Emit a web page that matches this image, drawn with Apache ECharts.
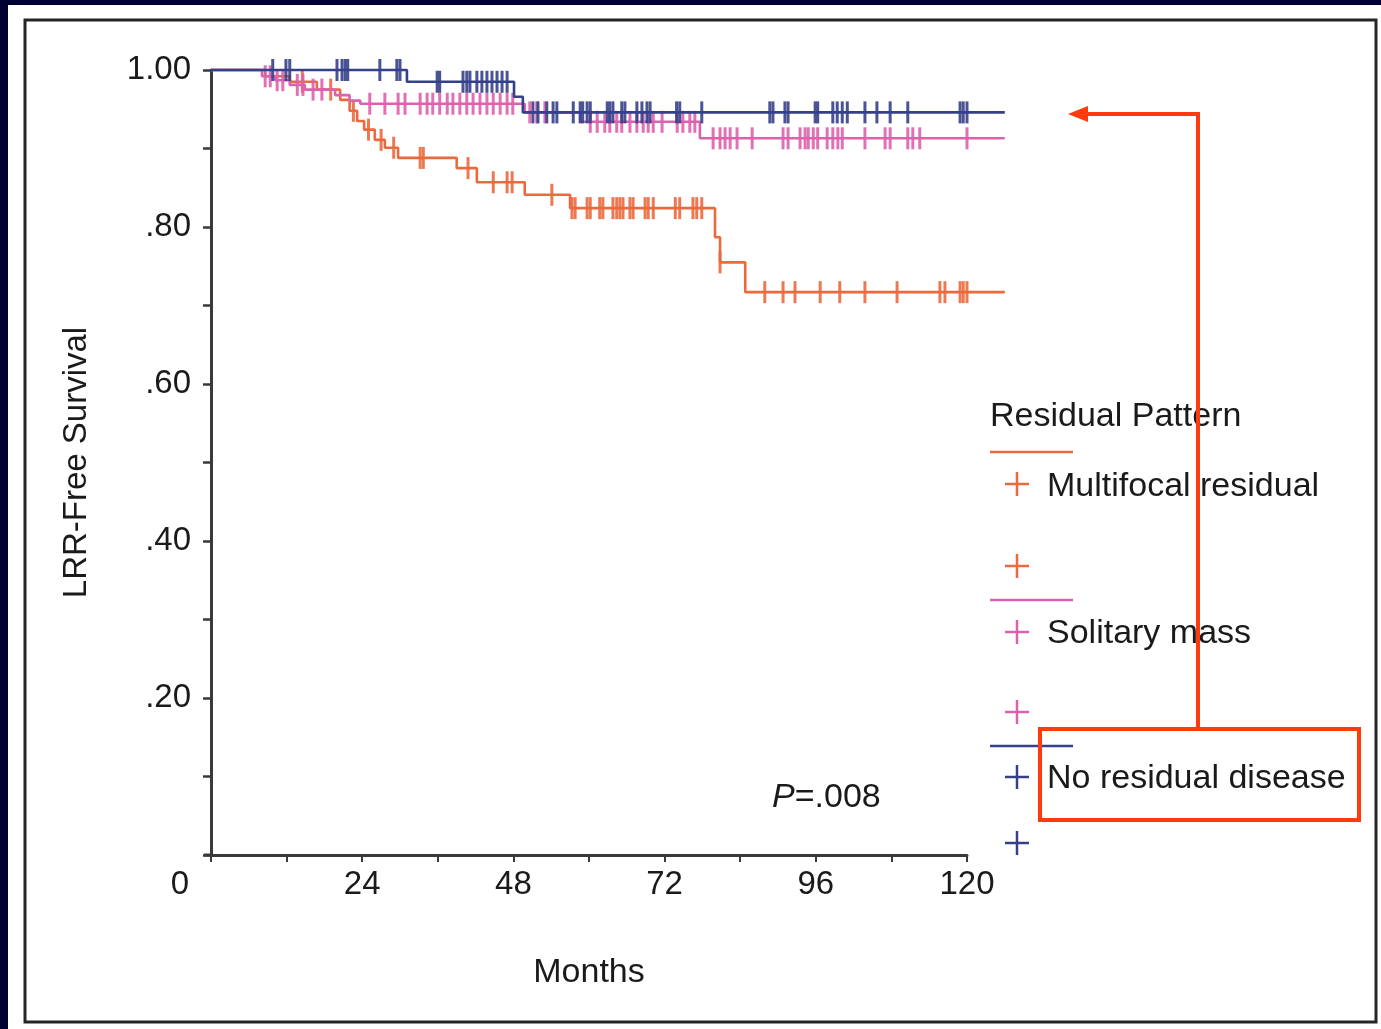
<!DOCTYPE html>
<html>
<head>
<meta charset="utf-8">
<script src="https://cdn.jsdelivr.net/npm/echarts@6/dist/echarts.min.js"></script>
<style>
  html, body { margin: 0; padding: 0; background: #ffffff; }
  #main { width: 1381px; height: 1029px; }
</style>
</head>
<body>
<div id="main"></div>
<script>
// step points (months, survival after the event) and censor times, per group
var multiTime = [0, 8.6, 12.5, 16.8, 20.5, 22.0, 23.2, 24.3, 26.0, 27.6, 29.7, 39.0, 42.2, 49.8, 57.0, 80.0, 80.8, 84.8];
var multiSurv = [1, 0.992, 0.985, 0.975, 0.962, 0.948, 0.935, 0.924, 0.911, 0.901, 0.888, 0.875, 0.857, 0.841, 0.824, 0.787, 0.755, 0.717];
var multiCensor = [14.5, 19.0, 22.6, 25.0, 27.0, 29.0, 33.2, 33.7, 40.8, 44.8, 47.0, 47.8, 54.1, 57.3, 57.8, 59.7, 60.2, 61.7, 62.2,
  63.8, 64.4, 64.9, 65.4, 66.5, 67.0, 68.9, 69.4, 70.2, 73.7, 74.4, 76.5, 77.1, 77.9, 80.8, 87.9, 90.8, 92.7, 96.7, 99.8,
  103.8, 108.9, 115.7, 116.5, 118.9, 119.4, 120.0];

var soloTime = [0, 8.1, 10.2, 12.5, 14.9, 19.7, 22.0, 23.7, 49.8, 58.6, 77.6];
var soloSurv = [1, 0.992, 0.987, 0.981, 0.975, 0.968, 0.961, 0.957, 0.946, 0.934, 0.913];
var soloCensor = [8.6, 9.4, 10.5, 11.4, 13.7, 14.6, 16.2, 17.6, 25.2, 27.6, 29.7, 30.8, 33.2, 34.3, 35.2, 36.3, 37.5, 38.4,
  39.5, 40.6, 41.6, 42.7, 43.8, 44.8, 45.9, 47.0, 47.9, 50.6, 51.7, 53.0, 60.2, 61.3, 62.5, 63.3, 64.4, 65.2, 66.5, 67.6,
  68.6, 69.4, 70.2, 71.6, 74.0, 74.9, 76.0, 76.8, 79.7, 80.8, 81.6, 82.4, 83.5, 85.9, 90.8, 91.6, 93.5, 94.3, 94.8, 95.6,
  96.3, 97.8, 98.7, 99.5, 100.2, 103.8, 107.0, 107.8, 110.6, 111.4, 112.5, 120.0];

var noneTime = [0, 31.1, 48.1, 49.5];
var noneSurv = [1, 0.985, 0.966, 0.946];
var noneCensor = [9.8, 11.9, 12.5, 20.0, 20.8, 21.3, 21.7, 26.8, 29.5, 30.0, 35.9, 36.3, 40.0, 40.6, 41.1, 42.2, 43.0, 43.8,
  44.6, 45.4, 46.2, 47.0, 51.1, 51.9, 53.3, 54.3, 54.9, 57.5, 58.6, 59.0, 59.7, 60.2, 62.9, 63.3, 63.8, 65.2, 65.7, 67.6,
  68.4, 69.2, 69.7, 73.9, 74.4, 77.9, 88.7, 89.2, 91.1, 91.6, 95.9, 96.3, 98.7, 99.4, 100.2, 101.0, 103.8, 105.7, 107.8,
  110.6, 118.9, 119.4, 120.0];

var lastFollowUp = 126;
var groupNames = ['Multifocal residual', 'Solitary mass', 'No residual disease'];
var groupColors = ['#ea6a3e', '#dd62ad', '#35408a'];
var FONT = '"Liberation Sans", Arial, sans-serif';
var INK = '#1a1a1a';

function stepData(t, s) {
  var d = t.map(function (v, i) { return [v, s[i]]; });
  d.push([lastFollowUp, s[s.length - 1]]);
  return d;
}
function censorData(t, s, c) {
  return c.map(function (m) {
    var v = s[0];
    for (var i = 0; i < t.length; i++) { if (t[i] <= m) v = s[i]; }
    return [m, v];
  });
}

var groups = [[multiTime, multiSurv, multiCensor], [soloTime, soloSurv, soloCensor], [noneTime, noneSurv, noneCensor]];
var series = [];
groups.forEach(function (g, i) {
  series.push({
    name: groupNames[i], type: 'line', step: 'end', xAxisIndex: 1, yAxisIndex: 1,
    data: stepData(g[0], g[1]), showSymbol: false, clip: false, z: 3 + i,
    lineStyle: { color: groupColors[i], width: 2.6 }
  });
  series.push({
    name: groupNames[i] + ' censored', type: 'scatter', xAxisIndex: 1, yAxisIndex: 1,
    data: censorData(g[0], g[1], g[2]), symbol: 'rect', symbolSize: [3, 22], clip: false, z: 3 + i,
    itemStyle: { color: groupColors[i], opacity: 0.9 }
  });
});

function plus(x, y, color) {
  return {
    type: 'group', children: [
      { type: 'line', shape: { x1: x - 12, y1: y, x2: x + 12, y2: y }, style: { stroke: color, lineWidth: 2.5 } },
      { type: 'line', shape: { x1: x, y1: y - 12, x2: x, y2: y + 12 }, style: { stroke: color, lineWidth: 2.5 } }
    ]
  };
}
function label(x, y, txt) {
  return { type: 'text', left: x, top: y - 15, style: { text: txt, font: '34px ' + FONT, fill: INK } };
}

var red = '#ff3a0e';
var graphics = [
  { type: 'rect', shape: { x: 0, y: 0, width: 1381, height: 5 }, style: { fill: '#000033' } },
  { type: 'rect', shape: { x: 0, y: 0, width: 8, height: 1029 }, style: { fill: '#000033' } },
  { type: 'rect', shape: { x: 25, y: 20, width: 1351, height: 1002 }, style: { fill: 'none', stroke: '#262626', lineWidth: 3 } },
  { type: 'line', shape: { x1: 204, y1: 855, x2: 212, y2: 855 }, style: { stroke: '#3a3a3a', lineWidth: 3 } },
  { type: 'text', left: 990, top: 400, style: { text: 'Residual Pattern', font: '34px ' + FONT, fill: INK } },
  { type: 'line', shape: { x1: 990, y1: 452, x2: 1073, y2: 452 }, style: { stroke: groupColors[0], lineWidth: 2.5 } },
  plus(1017, 484, groupColors[0]), label(1047, 485, groupNames[0]),
  plus(1017, 566, groupColors[0]),
  { type: 'line', shape: { x1: 990, y1: 600, x2: 1073, y2: 600 }, style: { stroke: groupColors[1], lineWidth: 2.5 } },
  plus(1017, 632, groupColors[1]), label(1047, 632, groupNames[1]),
  plus(1017, 712, groupColors[1]),
  { type: 'line', shape: { x1: 990, y1: 746, x2: 1073, y2: 746 }, style: { stroke: groupColors[2], lineWidth: 2.5 } },
  plus(1017, 777, groupColors[2]), label(1047, 777, groupNames[2]),
  plus(1017, 843, groupColors[2]),
  {
    type: 'text', left: 772, top: 781,
    style: {
      text: '{i|P}{n|=.008}', font: '34px ' + FONT,
      rich: { i: { font: 'italic 34px ' + FONT, fill: INK }, n: { font: '34px ' + FONT, fill: INK } }
    }
  },
  // red call-out
  { type: 'rect', shape: { x: 1040, y: 729, width: 319, height: 91 }, style: { fill: 'none', stroke: red, lineWidth: 4 } },
  { type: 'polyline', shape: { points: [[1198, 729], [1198, 114], [1085, 114]] }, style: { fill: 'none', stroke: red, lineWidth: 4 } },
  { type: 'polygon', shape: { points: [[1068, 114], [1088, 106], [1088, 122]] }, style: { fill: red } }
];

var myChart = echarts.init(document.getElementById('main'));
var option = {
  backgroundColor: '#ffffff',
  animation: false,
  grid: [
    { left: 211, top: 70, width: 756, height: 785 },
    { left: 211, top: 70, width: 793.8, height: 785 }
  ],
  xAxis: [{
    gridIndex: 0, type: 'value', min: 0, max: 120, interval: 24,
    name: 'Months', nameLocation: 'middle', nameGap: 101,
    nameTextStyle: { fontFamily: FONT, fontSize: 34, color: INK },
    axisLine: { lineStyle: { color: '#3a3a3a', width: 3 } },
    axisTick: { length: 7, lineStyle: { color: '#3a3a3a', width: 2 } },
    minorTick: { show: true, splitNumber: 2, length: 7, lineStyle: { color: '#3a3a3a', width: 2 } },
    splitLine: { show: false },
    axisLabel: {
      margin: 13, fontFamily: FONT, fontSize: 33, color: INK,
      formatter: function (v) { return v === 0 ? '{z|0}' : String(v); },
      rich: { z: { fontFamily: FONT, fontSize: 33, color: INK, padding: [0, 62, 0, 0] } }
    }
  }, {
    gridIndex: 1, type: 'value', min: 0, max: lastFollowUp, show: false
  }],
  yAxis: [{
    gridIndex: 0, type: 'value', min: 0, max: 1, interval: 0.2,
    name: 'LRR-Free Survival', nameLocation: 'middle', nameGap: 118, nameRotate: 90,
    nameTextStyle: { fontFamily: FONT, fontSize: 33, color: INK },
    axisLine: { show: true, lineStyle: { color: '#3a3a3a', width: 3 } },
    axisTick: { show: true, length: 8, lineStyle: { color: '#3a3a3a', width: 2.5 } },
    minorTick: { show: true, splitNumber: 2, length: 8, lineStyle: { color: '#3a3a3a', width: 2.5 } },
    splitLine: { show: false },
    axisLabel: {
      margin: 20, fontFamily: FONT, fontSize: 33, color: INK,
      formatter: function (v) {
        if (v === 0) return '';
        if (v === 1) return '1.00';
        return '.' + String(Math.round(v * 100));
      }
    }
  }, {
    gridIndex: 1, type: 'value', min: 0, max: 1, show: false
  }],
  series: series,
  graphic: graphics
};
myChart.setOption(option);
</script>
</body>
</html>
